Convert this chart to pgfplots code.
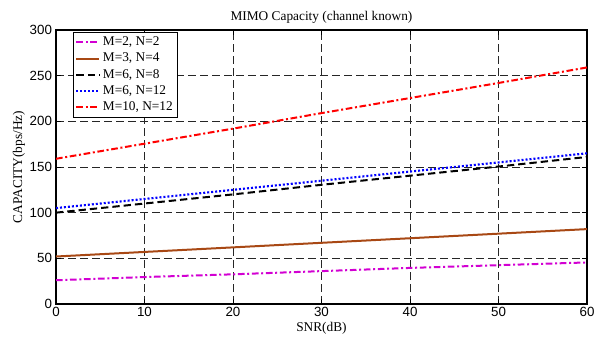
\documentclass[border=0pt]{standalone}
\usepackage{fontspec}
\setmainfont{Liberation Serif}
\newfontfamily\arialf{Liberation Sans}
\usepackage{pgfplots}
\pgfplotsset{compat=1.18}
\definecolor{mybrown}{RGB}{168,72,20}
\definecolor{mymag}{RGB}{210,0,210}
\begin{document}
\begin{tikzpicture}
\useasboundingbox (-42pt,-24pt) rectangle (407.25pt,228pt);
\begin{axis}[
  at={(0,0)}, anchor=south west,
  scale only axis,
  width=398.25pt, height=205.5pt,
  xmin=0, xmax=60, ymin=0, ymax=300,
  xtick={0,10,...,60}, ytick={0,50,...,300},
  grid=major,
  major grid style={black!85, line width=0.4pt, dash pattern=on 6pt off 3pt},
  tick align=inside,
  tick pos=both,
  axis line style={line width=0.8pt},
  tick style={black, line width=0.6pt},
  major tick length=3.75pt,
  ticklabel style={font=\arialf\fontsize{10}{12}\selectfont},
  /pgf/number format/assume math mode=true,
  xticklabel style={yshift=1.5pt},
  yticklabel style={xshift=0.5pt},
  title={MIMO Capacity (channel known)},
  title style={font=\fontsize{10}{12}\selectfont, at={(axis description cs:0.5,1)}, anchor=center, yshift=3.75pt},
  xlabel={SNR(dB)},
  xlabel style={font=\fontsize{10}{12}\selectfont, at={(axis description cs:0.5,0)}, anchor=center, yshift=-18pt},
  ylabel={CAPACITY(bps/Hz)},
  ylabel style={font=\fontsize{10}{12}\selectfont, at={(axis description cs:0,0.5)}, anchor=center, yshift=27.75pt},
  legend style={at={(0.032,0.993)}, anchor=north west, font=\fontsize{10}{12}\selectfont,
    draw=black, line width=0.6pt, inner sep=1.5pt, row sep=0pt,
    /tikz/every even column/.append style={column sep=0pt}},
  legend cell align=left,
  legend image code/.code={\draw[#1] (0cm,0cm) -- (0.6cm,0cm);},
]
\addplot[mymag, line width=1.5pt, dash pattern=on 5pt off 2pt on 1.5pt off 2pt] coordinates {(0,26) (10,29.5) (20,32.5) (30,36) (40,39.5) (50,42.5) (60,45.5)};
\addlegendentry{M=2, N=2}
\addplot[mybrown, line width=1.5pt] coordinates {(0,52) (10,57) (20,62) (30,67) (40,72) (50,77) (60,82)};
\addlegendentry{M=3, N=4}
\addplot[black, line width=1.5pt, dash pattern=on 5.5pt off 3pt] coordinates {(0,100) (10,110) (20,120) (30,130.5) (40,140.5) (50,150.5) (60,161)};
\addlegendentry{M=6, N=8}
\addplot[blue, line width=1.6pt, dash pattern=on 1.5pt off 1.5pt] coordinates {(0,105) (10,115) (20,125) (30,135) (40,145) (50,155) (60,165)};
\addlegendentry{M=6, N=12}
\addplot[red, line width=1.5pt, dash pattern=on 5pt off 2pt on 1.5pt off 2pt] coordinates {(0,159) (10,175.5) (20,192) (30,209) (40,225.5) (50,242) (60,259)};
\addlegendentry{M=10, N=12}
\end{axis}
\end{tikzpicture}
\end{document}
